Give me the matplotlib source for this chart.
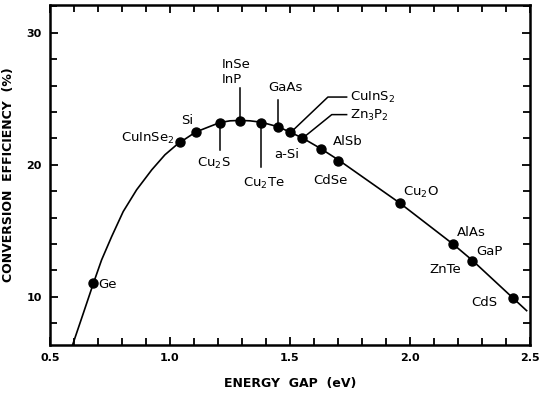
import matplotlib.pyplot as plt

# materials plotted on the curve: band gap (eV) and max conversion efficiency (%)
materials = ["Ge", "CuInSe2", "Si", "Cu2S", "InP", "Cu2Te", "GaAs", "CuInS2",
             "Zn3P2", "AlSb", "CdSe", "Cu2O", "AlAs", "GaP", "CdS"]
gap = [0.68, 1.04, 1.11, 1.21, 1.29, 1.38, 1.45, 1.50,
       1.55, 1.63, 1.70, 1.96, 2.18, 2.26, 2.43]
eff = [11.05, 21.7, 22.5, 23.2, 23.35, 23.2, 22.9, 22.45,
       22.0, 21.2, 20.3, 17.1, 14.0, 12.75, 9.9]

# theoretical efficiency curve
curve_x = [0.594, 0.639, 0.681, 0.715, 0.757, 0.805, 0.861, 0.924, 0.979,
           1.028, 1.042, 1.107, 1.16, 1.208, 1.25, 1.292, 1.333, 1.379,
           1.451, 1.503, 1.553, 1.628, 1.705, 1.958, 2.18, 2.261, 2.43, 2.486]
curve_y = [6.36, 8.77, 11.04, 12.80, 14.57, 16.46, 18.11, 19.62, 20.76,
           21.52, 21.7, 22.48, 22.86, 23.2, 23.33, 23.36, 23.33, 23.23,
           22.88, 22.45, 22.02, 21.23, 20.33, 17.1, 13.99, 12.75, 9.9, 8.96]

x_ticks = [0.5, 1.0, 1.5, 2.0, 2.5]
y_ticks = [10, 20, 30]

fig = plt.figure(figsize=(5.5, 3.95), dpi=100)
ax = fig.add_axes([0.0909, 0.1266, 0.8727, 0.8608])

ax.plot(curve_x, curve_y, color="black", linewidth=1.2)
ax.plot(gap, eff, "o", color="black", markersize=6.5)

ax.set_xlim(0.5, 2.5)
ax.set_ylim(6.36, 32.1)

# labels: text, x, y, horizontal alignment
lab = [
    ("Ge", 0.70, 10.95, "left"),
    ("CuInSe$_2$", 1.02, 22.0, "right"),
    ("Si", 1.071, 23.35, "center"),
    ("Cu$_2$S", 1.183, 20.1, "center"),
    ("InSe", 1.275, 27.6, "center"),
    ("InP", 1.258, 26.45, "center"),
    ("Cu$_2$Te", 1.392, 18.6, "center"),
    ("GaAs", 1.483, 25.85, "center"),
    ("a-Si", 1.488, 20.8, "center"),
    ("CuInS$_2$", 1.75, 25.1, "left"),
    ("Zn$_3$P$_2$", 1.75, 23.7, "left"),
    ("AlSb", 1.742, 21.75, "center"),
    ("CdSe", 1.667, 18.85, "center"),
    ("Cu$_2$O", 1.97, 17.9, "left"),
    ("AlAs", 2.195, 14.85, "left"),
    ("GaP", 2.275, 13.4, "left"),
    ("ZnTe", 2.146, 12.1, "center"),
    ("CdS", 2.308, 9.6, "center"),
]
for t, x, y, ha in lab:
    ax.text(x, y, t, ha=ha, va="center", fontsize=9.5, color="black")

# leader lines from labels to points
leaders = [
    ([1.208, 1.208], [23.2, 21.15]),
    ([1.292, 1.292], [25.85, 23.36]),
    ([1.379, 1.379], [23.23, 19.8]),
    ([1.451, 1.451], [24.9, 22.88]),
    ([1.503, 1.658, 1.736], [22.45, 25.13, 25.13]),
    ([1.553, 1.674, 1.736], [22.02, 23.8, 23.8]),
]
for lx, ly in leaders:
    ax.plot(lx, ly, color="black", linewidth=1.1)

ax.set_xticks([0.5 + 0.1 * i for i in range(21)], minor=True)
ax.set_xticks(x_ticks)
ax.set_xticklabels([f"{v:.1f}" for v in x_ticks])
ax.set_yticks(list(range(8, 33, 2)), minor=True)
ax.set_yticks(y_ticks)
ax.set_yticklabels([str(v) for v in y_ticks])

ax.tick_params(which="both", direction="in", top=True, right=True,
               width=1.3, labelsize=8)
ax.tick_params(which="major", length=6, pad=6)
ax.tick_params(which="minor", length=5)
for lbl in ax.get_xticklabels() + ax.get_yticklabels():
    lbl.set_fontweight("bold")

for spine in ax.spines.values():
    spine.set_linewidth(1.8)
    spine.set_edgecolor("black")

ax.set_xlabel("ENERGY  GAP  (eV)", fontsize=9, fontweight="bold", labelpad=10)
ax.set_ylabel("CONVERSION  EFFICIENCY  (%)", fontsize=9, fontweight="bold",
              labelpad=8)

fig.savefig("out.png", dpi=100)
